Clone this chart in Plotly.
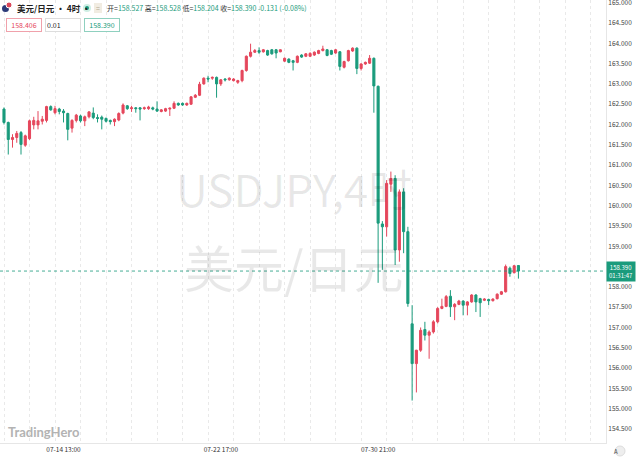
import plotly.graph_objects as go

# USD/JPY 4h bars
open_px = [162.38, 162.05, 161.63, 161.68, 161.80, 161.49, 161.65, 161.99, 161.99, 162.08,
           162.10, 162.44, 162.29, 162.38, 162.33, 162.27, 161.91, 162.10, 162.21, 162.09,
           162.19, 162.28, 162.17, 162.18, 162.15, 162.10, 162.07, 162.11, 162.28, 162.46,
           162.39, 162.41, 162.41, 162.39, 162.39, 162.41, 162.38, 162.32, 162.33, 162.38,
           162.40, 162.52, 162.52, 162.48, 162.50, 162.67, 162.72, 163.00, 163.14, 163.14,
           163.16, 163.00, 163.12, 163.10, 163.08, 163.04, 163.08, 163.33, 163.68, 163.78,
           163.82, 163.79, 163.82, 163.84, 163.84, 163.79, 163.56, 163.61, 163.57, 163.53,
           163.71, 163.68, 163.68, 163.71, 163.75, 163.82, 163.84, 163.82, 163.76, 163.79,
           163.41, 163.57, 163.81, 163.88, 163.38, 163.49, 163.51, 163.63, 162.94, 159.55,
           159.48, 160.53, 160.67, 158.91, 160.34, 159.36, 157.09, 156.11, 156.44, 156.95,
           156.81, 156.89, 157.14, 157.47, 157.52, 157.77, 157.51, 157.57, 157.65, 157.55,
           157.63, 157.80, 157.71, 157.67, 157.69, 157.66, 157.71, 157.82, 157.88, 158.46,
           158.35, 158.527]
high_px = [162.42, 162.07, 161.76, 161.84, 161.84, 161.75, 162.12, 162.19, 162.33, 162.21,
           162.46, 162.47, 162.46, 162.41, 162.38, 162.29, 162.13, 162.26, 162.24, 162.22,
           162.33, 162.42, 162.25, 162.22, 162.17, 162.12, 162.15, 162.30, 162.52, 162.48,
           162.46, 162.43, 162.43, 162.44, 162.46, 162.44, 162.57, 162.38, 162.41, 162.42,
           162.57, 162.54, 162.54, 162.54, 162.70, 162.75, 163.05, 163.16, 163.20, 163.18,
           163.18, 163.12, 163.14, 163.16, 163.14, 163.10, 163.35, 163.70, 163.99, 163.86,
           163.90, 163.86, 163.84, 163.86, 163.86, 163.85, 163.65, 163.63, 163.59, 163.70,
           163.73, 163.76, 163.78, 163.80, 163.84, 163.94, 163.86, 163.84, 163.86, 163.81,
           163.57, 163.84, 163.90, 163.90, 163.51, 163.55, 163.71, 163.65, 162.96, 159.62,
           160.63, 160.84, 160.75, 160.40, 160.43, 159.48, 157.55, 156.45, 157.00, 157.14,
           156.93, 157.18, 157.50, 157.71, 157.80, 157.92, 157.60, 157.68, 157.67, 157.65,
           157.82, 157.82, 157.73, 157.72, 157.71, 157.72, 157.84, 157.90, 158.55, 158.50,
           158.54, 158.528]
low_px = [162.00, 161.26, 161.43, 161.55, 161.26, 161.45, 161.62, 161.88, 161.88, 162.00,
          162.05, 162.34, 162.25, 162.25, 162.05, 161.61, 161.80, 162.05, 162.05, 161.96,
          162.15, 162.13, 162.05, 161.88, 162.05, 162.00, 161.96, 162.08, 162.25, 162.36,
          162.31, 162.29, 162.10, 162.36, 162.36, 162.35, 162.31, 162.30, 162.31, 162.21,
          162.38, 162.46, 162.46, 162.46, 162.48, 162.65, 162.70, 162.98, 163.04, 163.10,
          162.66, 162.95, 163.06, 163.08, 163.06, 163.00, 163.04, 163.30, 163.65, 163.76,
          163.74, 163.77, 163.69, 163.72, 163.63, 163.78, 163.54, 163.51, 163.33, 163.51,
          163.64, 163.66, 163.66, 163.69, 163.73, 163.80, 163.68, 163.71, 163.74, 163.33,
          163.38, 163.55, 163.79, 163.24, 163.33, 163.47, 163.49, 162.29, 158.10, 158.42,
          159.24, 160.34, 158.54, 158.62, 158.83, 157.51, 155.20, 155.40, 156.40, 156.68,
          156.23, 156.85, 157.10, 157.45, 157.50, 157.26, 157.18, 157.55, 157.30, 157.30,
          157.61, 157.38, 157.26, 157.65, 157.55, 157.64, 157.69, 157.80, 157.86, 158.25,
          158.33, 158.204]
close_px = [162.05, 161.63, 161.68, 161.78, 161.51, 161.72, 162.09, 162.10, 162.09, 162.13,
            162.44, 162.36, 162.39, 162.32, 162.29, 161.88, 162.10, 162.23, 162.09, 162.19,
            162.31, 162.17, 162.15, 162.13, 162.08, 162.07, 162.13, 162.27, 162.48, 162.39,
            162.41, 162.39, 162.38, 162.41, 162.43, 162.38, 162.33, 162.36, 162.39, 162.40,
            162.52, 162.48, 162.48, 162.52, 162.68, 162.72, 162.99, 163.14, 163.12, 163.16,
            163.00, 163.10, 163.10, 163.14, 163.12, 163.08, 163.33, 163.68, 163.78, 163.82,
            163.78, 163.84, 163.71, 163.74, 163.76, 163.84, 163.63, 163.53, 163.53, 163.68,
            163.66, 163.74, 163.75, 163.78, 163.82, 163.86, 163.70, 163.73, 163.84, 163.43,
            163.55, 163.82, 163.88, 163.38, 163.49, 163.53, 163.63, 162.95, 159.57, 159.48,
            160.55, 160.67, 158.91, 160.34, 159.36, 157.59, 156.11, 156.44, 156.93, 156.81,
            156.89, 157.14, 157.47, 157.52, 157.76, 157.51, 157.57, 157.65, 157.55, 157.63,
            157.80, 157.63, 157.61, 157.70, 157.66, 157.70, 157.82, 157.88, 158.50, 158.33,
            158.521, 158.390]

tick_labels = ["07-14 13:00", "07-22 17:00", "07-30 21:00"]
tick_bars = [14, 51, 88]

sell_px = "158.406"
lot_size = "0.01"
buy_px = "158.390"
countdown = "01:31:47"

RED = "#e5475c"
GREEN = "#1a9b7c"
FONT = "Noto Sans CJK SC, Noto Sans, sans-serif"

bars = list(range(len(close_px)))

fig = go.Figure()
fig.add_trace(go.Candlestick(
    x=bars, open=open_px, high=high_px, low=low_px, close=close_px,
    increasing=dict(line=dict(color=RED, width=1), fillcolor=RED),
    decreasing=dict(line=dict(color=GREEN, width=1), fillcolor=GREEN),
    whiskerwidth=0, hoverinfo="skip", showlegend=False,
))

last = close_px[-1]
chg = close_px[-1] - close_px[-2]
pct = chg / close_px[-2] * 100

# dotted line at the last price
fig.add_shape(type="line", xref="paper", x0=0, x1=1, yref="y", y0=last, y1=last,
              line=dict(color=GREEN, width=1, dash="dot"), opacity=0.8)

def px_ann(text, x, y, **kw):
    # annotation placed in pixels from the top-left corner of the plot
    fig.add_annotation(text=text, xref="paper", yref="paper", x=0, y=1,
                       xanchor=kw.pop("xanchor", "left"), yanchor="middle",
                       xshift=x, yshift=-y, showarrow=False, **kw)

def px_shape(kind, x0, y0, x1, y1, **kw):
    fig.add_shape(type=kind, xref="paper", yref="paper", xsizemode="pixel", ysizemode="pixel",
                  xanchor=0, yanchor=1, x0=x0, x1=x1, y0=-y0, y1=-y1, **kw)

# header: symbol line
px_shape("circle", 2, 5, 9, 12, fillcolor="#2b3a78", line=dict(width=0))
px_shape("circle", 6, 2, 12, 8, fillcolor="#d9485a", line=dict(color="white", width=1))
px_ann("<b>美元/日元 · 4时 ·</b>", 15, 8, font=dict(family=FONT, size=8.5, color="#222"))
px_shape("circle", 83, 4, 91, 12, fillcolor="#cfeee4", line=dict(width=0))
px_shape("circle", 85, 6, 89, 10, fillcolor=GREEN, line=dict(width=0))
px_shape("rect", 94, 3, 102, 13, fillcolor="#f1ece2", line=dict(width=0))
px_ann("=", 98, 8, xanchor="center", font=dict(family=FONT, size=7, color="#b0a58f"))

ohlc = (
    f"开=<span style='color:{GREEN}'>{open_px[-1]:.3f}</span> "
    f"高=<span style='color:{GREEN}'>{high_px[-1]:.3f}</span> "
    f"低=<span style='color:{GREEN}'>{low_px[-1]:.3f}</span> "
    f"收=<span style='color:{GREEN}'>{close_px[-1]:.3f}</span> "
    f"<span style='color:{GREEN}'>{chg:.3f} ({pct:.2f}%)</span>"
)
px_ann(ohlc, 105, 8, font=dict(family=FONT, size=7, color="#333"))

# header: trade boxes
px_ann(sell_px, 6, 24.5, width=32, height=10, bgcolor="white", bordercolor="#f0a1ab",
       borderwidth=1, borderpad=1, font=dict(family=FONT, size=7, color=RED))
px_ann(lot_size, 45, 24.5, width=32, height=10, align="left", bgcolor="white",
       bordercolor="#dddddd", borderwidth=1, borderpad=1, font=dict(family=FONT, size=7, color="#222"))
px_ann(buy_px, 84, 24.5, width=32, height=10, bgcolor="white", bordercolor="#8fd0bf",
       borderwidth=1, borderpad=1, font=dict(family=FONT, size=7, color=GREEN))

# watermark
fig.add_annotation(text="USDJPY,4时", xref="paper", yref="paper", x=0.485, y=0.575,
                   showarrow=False, font=dict(family=FONT, size=44, color="rgba(0,0,0,0.09)"))
fig.add_annotation(text="美元/日元", xref="paper", yref="paper", x=0.485, y=0.40,
                   showarrow=False, font=dict(family=FONT, size=50, color="rgba(0,0,0,0.09)"))
fig.add_annotation(text="<b>TradingHero</b>", xref="paper", yref="paper", x=0, y=0,
                   xanchor="left", yanchor="middle", xshift=6, yshift=11, showarrow=False,
                   font=dict(family="Lato, sans-serif", size=13, color="#b3b3b3"))

# last price tag on the price axis
fig.add_annotation(text=f"{last:.3f}<br>{countdown}", xref="paper", yref="y", x=1, y=last,
                   xanchor="left", yanchor="middle", showarrow=False, width=26, height=17,
                   bgcolor=GREEN, borderpad=1, font=dict(family=FONT, size=6, color="white"))

# "A" button bottom right
fig.add_shape(type="circle", xref="paper", yref="paper", xsizemode="pixel", ysizemode="pixel",
              xanchor=1, yanchor=0, x0=9, x1=19, y0=-3, y1=-13,
              fillcolor="#eeeeee", line=dict(color="#dddddd", width=1))
fig.add_annotation(text="A", xref="paper", yref="paper", x=1, y=0, xshift=14, yshift=-8,
                   yanchor="middle", showarrow=False, font=dict(family=FONT, size=6, color="#444"))

fig.update_layout(
    width=640, height=459,
    margin=dict(l=0, r=34, t=0, b=16),
    paper_bgcolor="white", plot_bgcolor="white",
    font=dict(family=FONT, size=7, color="#333"),
    showlegend=False,
    xaxis=dict(
        range=[-0.94, 141.6], rangeslider=dict(visible=False), automargin=False,
        tickmode="array", tickvals=tick_bars, ticktext=tick_labels,
        showgrid=False, zeroline=False, ticks="", ticklen=0,
        showline=True, linecolor="#e6e6e6", linewidth=1,
        tickfont=dict(size=6.5, color="#333"),
        minor=dict(tickmode="linear", tick0=0, dtick=6, showgrid=True,
                   gridcolor="#e9e9e9", griddash="dot", gridwidth=1, ticks=""),
    ),
    yaxis=dict(
        side="right", range=[154.155, 165.066], automargin=False,
        tick0=154.5, dtick=0.5, tickformat=".3f", ticklabeloverflow="allow",
        showgrid=False, zeroline=False, ticks="", ticklen=0,
        showline=True, linecolor="#e6e6e6", linewidth=1,
        tickfont=dict(size=6.5, color="#444"),
    ),
)

# the page body has a default margin; drop it so the chart fills the window
fig.write_html("out.html", config={"displayModeBar": False},
               post_script="document.body.style.margin='0';")
